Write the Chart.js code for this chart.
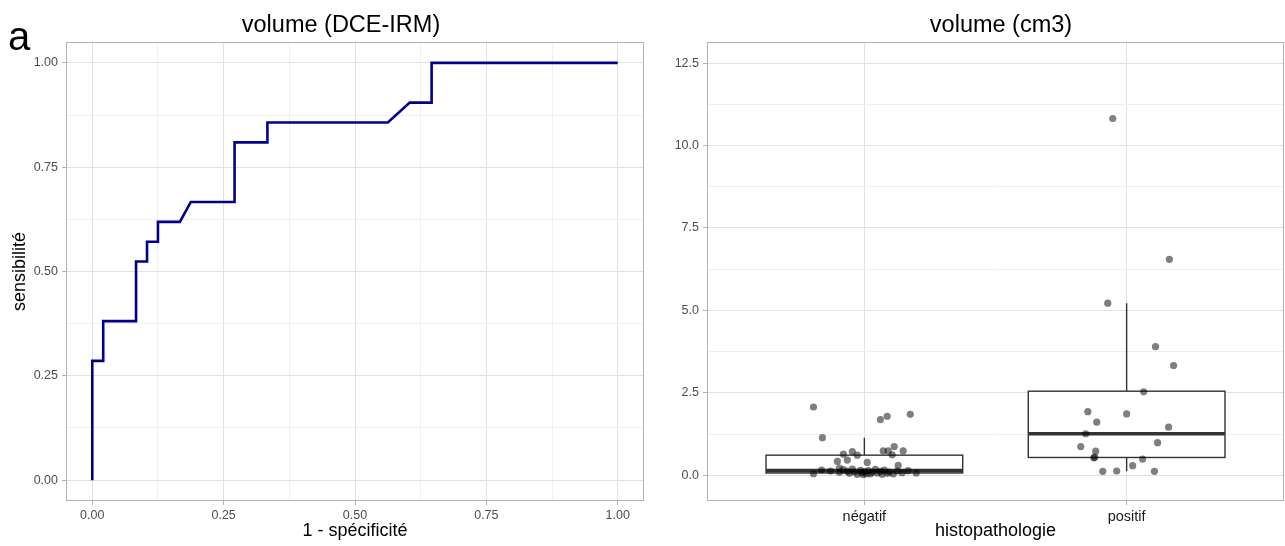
<!DOCTYPE html>
<html><head><meta charset="utf-8">
<script src="https://cdn.jsdelivr.net/npm/chart.js@4.4.1/dist/chart.umd.min.js"></script>
<style>
html,body{margin:0;padding:0;background:#fff;overflow:hidden;width:1285px;height:546px;}
#wrapA{position:absolute;left:0;top:0;width:650px;height:546px;}
#wrapB{position:absolute;left:650px;top:0;width:635px;height:546px;}
canvas{display:block;}
</style></head><body>
<div id="wrapA"><canvas id="rocChart" width="650" height="546"></canvas></div>
<div id="wrapB"><canvas id="boxChart" width="635" height="546"></canvas></div>
<script>
// ---------- Panel a : ROC curve ----------
const rocFpr = [0, 0, 0.0208, 0.0208, 0.0833, 0.0833, 0.1042, 0.1042, 0.125, 0.125, 0.1667, 0.1875, 0.2708, 0.2708, 0.3333, 0.3333, 0.5625, 0.6042, 0.6458, 0.6458, 1];
const rocTpr = [0, 0.2857, 0.2857, 0.381, 0.381, 0.5238, 0.5238, 0.5714, 0.5714, 0.619, 0.619, 0.6667, 0.6667, 0.8095, 0.8095, 0.8571, 0.8571, 0.9048, 0.9048, 1, 1];
const rocTicks = [0, 0.25, 0.5, 0.75, 1];
const rocMinorTicks = [0.125, 0.375, 0.625, 0.875];

// ---------- Panel b : volume by histopathology ----------
const groups = ['négatif', 'positif'];
const negVolume = [2.07, 1.14, 1.69, 1.79, 1.85, 0.64, 0.72, 0.61, 0.42, 0.46, 0.39, 0.74, 0.74, 0.87, 0.74, 0.62, 0.30, 0.22,
  0.05, 0.16, 0.13, 0.09, 0.17, 0.12, 0.06, 0.19, 0.10, 0.03, 0.15, 0.08, 0.02, 0.11, 0.05, 0.14, 0.04, 0.09, 0.18, 0.07,
  0.12, 0.03, 0.16, 0.06, 0.10, 0.04, 0.13, 0.08, 0.14, 0.07];
const negJitter = [-0.194, -0.160, 0.061, 0.087, 0.175, -0.080, -0.046, -0.027, -0.103, -0.065, 0.011, 0.072, 0.091, 0.114, 0.148, 0.106, 0.129, -0.095,
  -0.194, -0.163, -0.129, -0.095, -0.080, -0.065, -0.057, -0.046, -0.038, -0.027, -0.015, -0.011, -0.004, 0.000, 0.008, 0.015, 0.023, 0.030, 0.042, 0.049,
  0.061, 0.068, 0.076, 0.087, 0.095, 0.110, 0.125, 0.144, 0.167, 0.198];
const posVolume = [10.82, 6.55, 5.22, 3.90, 3.33, 2.53, 1.93, 1.86, 1.61, 1.46, 1.26, 0.99, 0.87, 0.73, 0.55, 0.53, 0.49, 0.29, 0.12, 0.13, 0.12];
const posJitter = [-0.053, 0.163, -0.072, 0.110, 0.179, 0.065, -0.148, 0.000, -0.114, 0.160, -0.156, 0.118, -0.175, -0.118, -0.122, -0.125, 0.061, 0.023, -0.091, -0.038, 0.106];
const boxQ1 = [0.07, 0.54];
const boxMedian = [0.14, 1.26];
const boxQ3 = [0.61, 2.55];
const whiskerLow = [0.02, 0.12];
const whiskerHigh = [1.14, 5.22];
const volumeTicks = [0, 2.5, 5, 7.5, 10, 12.5];
const volumeMinorTicks = [1.25, 3.75, 6.25, 8.75, 11.25];

const FONT = "'Liberation Sans', Arial, sans-serif";
const GRID_MAJOR = '#e2e2e2';
const GRID_MINOR = '#f0f0f0';
const BORDER = '#b3b3b3';

function decorPlugin(cfg) {
  return {
    id: 'decor_' + cfg.label,
    afterDraw(chart) {
      const ctx = chart.ctx, a = chart.chartArea;
      ctx.save();
      // panel border
      ctx.strokeStyle = BORDER; ctx.lineWidth = 1;
      ctx.strokeRect(Math.round(a.left) + 0.5, Math.round(a.top) + 0.5, Math.round(a.right - a.left) - 1, Math.round(a.bottom - a.top) - 1);
      ctx.fillStyle = '#000';
      // panel letter
      ctx.font = '40px ' + FONT; ctx.textAlign = 'left'; ctx.textBaseline = 'alphabetic';
      ctx.fillText(cfg.label, cfg.labelX, 50);
      // title
      ctx.font = '23.5px ' + FONT; ctx.textAlign = 'center';
      ctx.fillText(cfg.title, cfg.titleX, 32);
      // x axis title
      ctx.font = '18px ' + FONT;
      ctx.fillText(cfg.xTitle, (a.left + a.right) / 2, 536);
      // y axis title
      if (cfg.yTitle) {
        ctx.translate(25, (a.top + a.bottom) / 2);
        ctx.rotate(-Math.PI / 2);
        ctx.fillText(cfg.yTitle, 0, 0);
      }
      ctx.restore();
    }
  };
}

function gridOpts(majors) {
  return {
    color: c => majors.includes(c.tick && c.tick.value) ? GRID_MAJOR : GRID_MINOR,
    tickColor: c => majors.includes(c.tick && c.tick.value) ? BORDER : 'rgba(0,0,0,0)',
    lineWidth: 1,
    tickLength: 4,
    drawTicks: true
  };
}

// ---------- Chart a ----------
new Chart(document.getElementById('rocChart'), {
  type: 'line',
  data: {
    datasets: [{
      data: rocFpr.map((x, i) => ({ x: x, y: rocTpr[i] })),
      borderColor: '#00008B',
      borderWidth: 2.6,
      pointRadius: 0,
      tension: 0,
      fill: false
    }]
  },
  options: {
    responsive: false, animation: false, devicePixelRatio: 1,
    layout: { autoPadding: false, padding: { left: 0, right: 6, top: 42, bottom: 0 } },
    plugins: { legend: { display: false }, tooltip: { enabled: false } },
    scales: {
      x: {
        type: 'linear', min: -0.05, max: 1.05,
        afterBuildTicks: s => { s.ticks = rocTicks.concat(rocMinorTicks).sort((p, q) => p - q).map(v => ({ value: v })); },
        afterFit: s => { s.height = 45; },
        ticks: { autoSkip: false, maxRotation: 0, padding: 3, color: '#4d4d4d', font: { family: FONT, size: 12.5 },
          callback: v => rocTicks.includes(v) ? v.toFixed(2) : '' },
        grid: gridOpts(rocTicks),
        border: { display: false }
      },
      y: {
        type: 'linear', min: -0.05, max: 1.05,
        afterBuildTicks: s => { s.ticks = rocTicks.concat(rocMinorTicks).sort((p, q) => p - q).map(v => ({ value: v })); },
        afterFit: s => { s.width = 66; },
        ticks: { autoSkip: false, padding: 4, color: '#4d4d4d', font: { family: FONT, size: 12.5 },
          callback: v => rocTicks.includes(v) ? v.toFixed(2) : '' },
        grid: gridOpts(rocTicks),
        border: { display: false }
      }
    }
  },
  plugins: [decorPlugin({ label: 'a', labelX: 8, title: 'volume (DCE-IRM)', titleX: 341, xTitle: '1 - spécificité', yTitle: 'sensibilité' })]
});

// ---------- Chart b ----------
const BOX_WIDTH = 0.75;
const boxPlugin = {
  id: 'boxes',
  beforeDatasetsDraw(chart) {
    const ctx = chart.ctx, x = chart.scales.x, y = chart.scales.y;
    ctx.save();
    groups.forEach((g, i) => {
      const cx = x.getPixelForValue(i + 1);
      const hw = x.getPixelForValue(i + 1 + BOX_WIDTH / 2) - cx;
      const top = y.getPixelForValue(boxQ3[i]);
      const bot = y.getPixelForValue(boxQ1[i]);
      ctx.strokeStyle = '#333333';
      ctx.lineWidth = 1.4;
      ctx.beginPath();
      ctx.moveTo(cx, y.getPixelForValue(whiskerHigh[i])); ctx.lineTo(cx, top);
      ctx.moveTo(cx, bot); ctx.lineTo(cx, y.getPixelForValue(whiskerLow[i]));
      ctx.stroke();
      ctx.fillStyle = '#ffffff';
      ctx.fillRect(cx - hw, top, 2 * hw, bot - top);
      ctx.strokeRect(cx - hw, top, 2 * hw, bot - top);
      ctx.lineWidth = 3.6;
      ctx.beginPath();
      const m = y.getPixelForValue(boxMedian[i]);
      ctx.moveTo(cx - hw, m); ctx.lineTo(cx + hw, m);
      ctx.stroke();
    });
    ctx.restore();
  }
};

const pointStyle = { backgroundColor: 'rgba(0,0,0,0.5)', borderWidth: 0, pointRadius: 3.6 };
new Chart(document.getElementById('boxChart'), {
  type: 'scatter',
  data: {
    datasets: [
      Object.assign({ data: negVolume.map((v, i) => ({ x: 1 + negJitter[i], y: v })) }, pointStyle),
      Object.assign({ data: posVolume.map((v, i) => ({ x: 2 + posJitter[i], y: v })) }, pointStyle)
    ]
  },
  options: {
    responsive: false, animation: false, devicePixelRatio: 1,
    layout: { autoPadding: false, padding: { left: 0, right: 1, top: 42, bottom: 0 } },
    plugins: { legend: { display: false }, tooltip: { enabled: false } },
    scales: {
      x: {
        type: 'linear', min: 0.4, max: 2.6,
        afterBuildTicks: s => { s.ticks = groups.map((g, i) => ({ value: i + 1 })); },
        afterFit: s => { s.height = 45; },
        ticks: { autoSkip: false, maxRotation: 0, padding: 3, color: '#1a1a1a', font: { family: FONT, size: 14.5 },
          callback: v => groups[Math.round(v) - 1] },
        grid: gridOpts([1, 2]),
        border: { display: false }
      },
      y: {
        type: 'linear', min: -0.78, max: 13.14,
        afterBuildTicks: s => { s.ticks = volumeTicks.concat(volumeMinorTicks).sort((p, q) => p - q).map(v => ({ value: v })); },
        afterFit: s => { s.width = 57; },
        ticks: { autoSkip: false, padding: 4, color: '#4d4d4d', font: { family: FONT, size: 12.5 },
          callback: v => volumeTicks.includes(v) ? v.toFixed(1) : '' },
        grid: gridOpts(volumeTicks),
        border: { display: false }
      }
    }
  },
  plugins: [boxPlugin, decorPlugin({ label: 'b', labelX: 663, title: 'volume (cm3)', titleX: 1001 - 650, xTitle: 'histopathologie', yTitle: null })]
});
</script>
</body></html>
